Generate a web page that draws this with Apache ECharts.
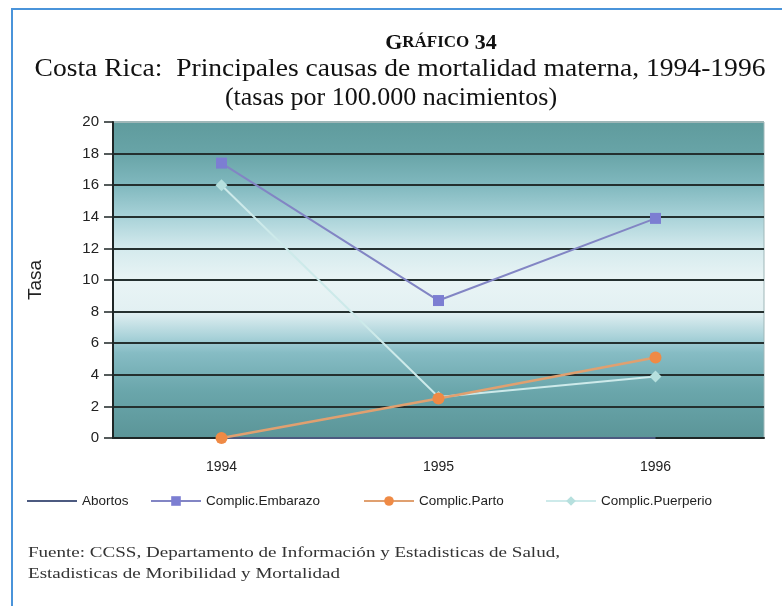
<!DOCTYPE html>
<html>
<head>
<meta charset="utf-8">
<script src="https://cdn.jsdelivr.net/npm/echarts@6/dist/echarts.min.js"></script>
<style>html,body{margin:0;padding:0;background:#fff;}#c{width:782px;height:606px;}</style>
</head>
<body>
<div id="c"></div>
<script>
var categories = ['1994', '1995', '1996'];
var seriesNames = ['Abortos', 'Complic.Embarazo', 'Complic.Parto', 'Complic.Puerperio'];
var abortos = [0, 0, 0];
var embarazo = [17.4, 8.7, 13.9];
var parto = [0, 2.5, 5.1];
var puerperio = [16.0, 2.6, 3.9];
var yMin = 0, yMax = 20, yStep = 2;

var chart = echarts.init(document.getElementById('c'));
var sans = "'Liberation Sans', Arial, sans-serif";
var serif = "'Liberation Serif', 'Times New Roman', serif";

var gridColors = [];
for (var v = yMin; v <= yMax; v += yStep) gridColors.push(v === yMax ? '#9fb7b8' : '#24302f');

var legendLefts = [22, 145, 358, 540];
var legends = seriesNames.map(function (n, i) {
  return {
    data: [i === 0 ? { name: n, icon: 'rect' } : n], left: legendLefts[i], top: 489,
    itemWidth: 50, itemHeight: i === 0 ? 2 : 12, itemGap: 4,
    textStyle: { fontFamily: sans, fontSize: 13.5, color: '#222' }
  };
});

chart.setOption({
  animation: false,
  backgroundColor: '#fff',
  graphic: [
    { type: 'rect', shape: { x: 12, y: 9, width: 800, height: 620 }, style: { fill: 'none', stroke: '#4a94da', lineWidth: 2 } },
    { type: 'text', x: 441, y: 32, style: {
      text: '{b|G}{s|RÁFICO}{b| 34}', textAlign: 'center', rich: {
        b: { fontFamily: serif, fontSize: 22, fontWeight: 'bold', fill: '#111' },
        s: { fontFamily: serif, fontSize: 17, fontWeight: 'bold', fill: '#111' }
      } } },
    { type: 'text', x: 400, y: 56, scaleX: 1.06, style: { text: 'Costa Rica:  Principales causas de mortalidad materna, 1994-1996', textAlign: 'center', fontFamily: serif, fontSize: 26, fill: '#111' } },
    { type: 'text', x: 391, y: 85, style: { text: '(tasas por 100.000 nacimientos)', textAlign: 'center', fontFamily: serif, fontSize: 26, fill: '#111' } },
    { type: 'text', x: 28, y: 546, scaleX: 1.36, style: { text: 'Fuente: CCSS, Departamento de Información y Estadisticas de Salud,', fontFamily: serif, fontSize: 14, fill: '#333' } },
    { type: 'text', x: 28, y: 567, scaleX: 1.36, style: { text: 'Estadisticas de Moribilidad y Mortalidad', fontFamily: serif, fontSize: 14, fill: '#333' } }
  ],
  legend: legends,
  grid: {
    left: 113, right: 18, top: 122, bottom: 168, show: true, borderWidth: 1, borderColor: '#9fb7b8',
    backgroundColor: { type: 'linear', x: 0, y: 0, x2: 0, y2: 1, colorStops: [
      { offset: 0, color: '#5f9b9d' },
      { offset: 0.1, color: '#68a4a7' },
      { offset: 0.2, color: '#80b8be' },
      { offset: 0.3, color: '#a8d2d8' },
      { offset: 0.4, color: '#d4eaed' },
      { offset: 0.5, color: '#e9f4f5' },
      { offset: 0.6, color: '#e2f0f2' },
      { offset: 0.68, color: '#a9d2d9' },
      { offset: 0.73, color: '#86bcc4' },
      { offset: 0.85, color: '#6aa6ab' },
      { offset: 1, color: '#5b9598' }
    ] }
  },
  xAxis: {
    type: 'category', data: categories, boundaryGap: true,
    axisLine: { lineStyle: { color: '#1e2626', width: 2 } },
    axisTick: { length: 7, lineStyle: { color: '#1e2626', width: 2 } },
    axisLabel: { margin: 22, fontFamily: sans, fontSize: 14, color: '#222' }
  },
  yAxis: {
    type: 'value', min: yMin, max: yMax, interval: yStep,
    name: 'Tasa', nameLocation: 'middle', nameGap: 68, nameRotate: 90,
    nameTextStyle: { fontFamily: sans, fontSize: 19, color: '#222' },
    axisLine: { show: true, lineStyle: { color: '#1e2626', width: 2 } },
    axisTick: { show: true, length: 9, lineStyle: { color: '#1e2626', width: 1.5 } },
    axisLabel: { margin: 14, fontFamily: sans, fontSize: 15, color: '#222' },
    splitLine: { show: true, lineStyle: { color: gridColors, width: 2 } }
  },
  series: [
    { name: seriesNames[0], type: 'line', data: abortos, symbol: 'none', lineStyle: { color: '#4c5a80', width: 2 }, itemStyle: { color: '#4c5a80' }, z: 2 },
    { name: seriesNames[1], type: 'line', data: embarazo, symbol: 'rect', symbolSize: 11, lineStyle: { color: '#8285c4', width: 2 }, itemStyle: { color: '#7c7ed2' }, z: 4 },
    { name: seriesNames[2], type: 'line', data: parto, symbol: 'circle', symbolSize: 12, lineStyle: { color: '#e0a070', width: 2.5 }, itemStyle: { color: '#ef8a45' }, z: 5 },
    { name: seriesNames[3], type: 'line', data: puerperio, symbol: 'diamond', symbolSize: 12, lineStyle: { color: '#cdeaea', width: 2 }, itemStyle: { color: '#b6e0de' }, z: 3 }
  ]
});
</script>
</body>
</html>
